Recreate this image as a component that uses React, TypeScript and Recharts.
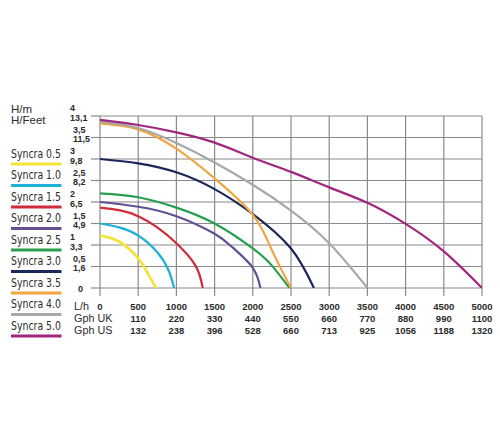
import React from 'react';
import { LineChart, Line, XAxis, YAxis, CartesianGrid, ReferenceLine } from 'recharts';

// Axis ticks and labels
const flowTicks = [0, 500, 1000, 1500, 2000, 2500, 3000, 3500, 4000, 4500, 5000];
const gphUK = ['', '110', '220', '330', '440', '550', '660', '770', '880', '990', '1100'];
const gphUS = ['', '132', '238', '396', '528', '660', '713', '925', '1056', '1188', '1320'];
const headTicks = [0, 0.5, 1, 1.5, 2, 2.5, 3, 3.5, 4];
const headMetres = ['0', '0,5', '1', '1,5', '2', '2,5', '3', '3,5', '4'];
const headFeet = ['', '1,6', '3,3', '4,9', '6,5', '8,2', '9,8', '11,5', '13,1'];

// Models
const models = ['Syncra 0.5', 'Syncra 1.0', 'Syncra 1.5', 'Syncra 2.0', 'Syncra 2.5', 'Syncra 3.0', 'Syncra 3.5', 'Syncra 4.0', 'Syncra 5.0'];

// Pump curves: flow (L/h) and head (m)
const s05Flow = [0, 250, 500, 630, 734];
const s05Head = [1.22, 1.08, 0.69, 0.33, 0];
const s10Flow = [0, 250, 500, 750, 900, 970];
const s10Head = [1.5, 1.41, 1.22, 0.83, 0.4, 0];
const s15Flow = [0, 250, 500, 750, 1000, 1250, 1345];
const s15Head = [1.87, 1.81, 1.67, 1.41, 1.04, 0.52, 0];
const s20Flow = [0, 500, 1000, 1500, 1750, 2000, 2100];
const s20Head = [2.0, 1.89, 1.67, 1.26, 0.92, 0.47, 0];
const s25Flow = [0, 500, 1000, 1500, 2000, 2250, 2480];
const s25Head = [2.2, 2.11, 1.87, 1.5, 0.92, 0.52, 0];
const s30Flow = [0, 500, 1000, 1500, 2000, 2500, 2800];
const s30Head = [3.0, 2.9, 2.69, 2.3, 1.72, 0.92, 0];
const s35Flow = [0, 500, 1000, 1500, 2000, 2250, 2500];
const s35Head = [3.83, 3.69, 3.24, 2.55, 1.7, 0.88, 0];
const s40Flow = [0, 500, 1000, 1500, 2000, 2500, 3000, 3500];
const s40Head = [3.87, 3.72, 3.37, 2.92, 2.4, 1.8, 1.04, 0];
const s50Flow = [0, 500, 1000, 1500, 2000, 2500, 3000, 3500, 4000, 4500, 5000];
const s50Head = [3.91, 3.79, 3.62, 3.38, 3.03, 2.7, 2.34, 1.98, 1.49, 0.85, 0];

const flows = [s05Flow, s10Flow, s15Flow, s20Flow, s25Flow, s30Flow, s35Flow, s40Flow, s50Flow];
const heads = [s05Head, s10Head, s15Head, s20Head, s25Head, s30Head, s35Head, s40Head, s50Head];

const colors = ['#f2e43a', '#1fb0d6', '#cf2b3b', '#644e94', '#26a04e', '#1c2759', '#f0a540', '#a8a8a8', '#a0267f'];

const series = models.map((name, i) => ({
  name,
  color: colors[i],
  data: flows[i].map((q, j) => ({ q, h: heads[i][j] })),
}));

const TEXT = '#2b2b2b';
const GRID = '#8a8a8a';
const FONT = '"Liberation Sans", Arial, sans-serif';
const PLOT_LEFT = 100;

const YTick = (props: any) => {
  const { y, payload } = props;
  const i = headTicks.indexOf(payload.value);
  if (i < 0) return null;
  const m = headMetres[i];
  const ft = headFeet[i];
  const common = { fontFamily: FONT, fontSize: 9, fontWeight: 700, fill: TEXT };
  const tick = <line x1={PLOT_LEFT - 9} x2={PLOT_LEFT} y1={y} y2={y} stroke={GRID} strokeWidth={1.2} />;
  if (!ft) {
    return (
      <g>
        {tick}
        <text x={78} y={y + 3.5} {...common}>{m}</text>
      </g>
    );
  }
  const x = Number.isInteger(payload.value) ? 70 : 73;
  return (
    <g>
      {tick}
      <text x={x} y={y - 5} {...common}>{m}</text>
      <text x={x} y={y + 4.5} {...common}>{ft}</text>
    </g>
  );
};

const XTick = (props: any) => {
  const { x, y, payload } = props;
  const i = flowTicks.indexOf(payload.value);
  if (i < 0) return null;
  const common = { fontFamily: FONT, fontSize: 9.5, fontWeight: 700, fill: TEXT, textAnchor: 'middle' as const };
  return (
    <g>
      <text x={x} y={y + 12} {...common}>{flowTicks[i]}</text>
      {gphUK[i] ? <text x={x} y={y + 24} {...common}>{gphUK[i]}</text> : null}
      {gphUS[i] ? <text x={x} y={y + 36} {...common}>{gphUS[i]}</text> : null}
    </g>
  );
};

export default function App() {
  return (
    <div style={{ position: 'absolute', left: 0, top: 0, width: 500, height: 439, background: '#fff' }}>
      <LineChart width={500} height={439} margin={{ top: 116, right: 18, bottom: 101, left: 70 }}>
        <CartesianGrid stroke={GRID} strokeWidth={1.2} horizontal={false} vertical={true} />
        {headTicks.map((v) => (
          <ReferenceLine key={'h' + v} y={v} stroke={GRID} strokeWidth={1.2} ifOverflow="visible" />
        ))}
        <XAxis
          dataKey="q"
          type="number"
          domain={[0, 5000]}
          ticks={flowTicks}
          interval={0}
          tickSize={8}
          tickMargin={2}
          axisLine={false}
          tickLine={{ stroke: GRID, strokeWidth: 1.2 }}
          height={50}
          tick={<XTick />}
          allowDataOverflow
        />
        <YAxis
          type="number"
          domain={[0, 4]}
          ticks={headTicks}
          interval={0}
          tickSize={9}
          axisLine={false}
          tickLine={false}
          width={30}
          tick={<YTick />}
          allowDataOverflow
        />
        {series.map((s) => (
          <Line
            key={s.name}
            data={s.data}
            dataKey="h"
            type="natural"
            stroke={s.color}
            strokeWidth={s.name === 'Syncra 0.5' ? 2.8 : 2.2}
            dot={false}
            activeDot={false}
            isAnimationActive={false}
          />
        ))}
      </LineChart>
      <svg width={500} height={439} style={{ position: 'absolute', left: 0, top: 0, pointerEvents: 'none' }}>
        <g fontFamily={FONT} fill={TEXT} fontSize={11.5}>
          <text x={11} y={113}>H/m</text>
          <text x={11} y={124}>H/Feet</text>
        </g>
        <g fontFamily={FONT} fill={TEXT} fontSize={10.8}>
          <text x={74} y={310}>L/h</text>
          <text x={74} y={322}>Gph UK</text>
          <text x={74} y={334}>Gph US</text>
        </g>
        {series.map((s, i) => {
          const barY = 164 + i * 21.5;
          return (
            <g key={s.name}>
              <text
                x={11}
                y={barY - 6.5}
                fontFamily={'"Liberation Sans Narrow", "DejaVu Sans Condensed", Roboto, sans-serif'}
                fontSize={11.5}
                fill={TEXT}
                textLength={50}
                lengthAdjust="spacingAndGlyphs"
              >
                {s.name}
              </text>
              <rect x={11} y={barY - 1.5} width={50.5} height={3} fill={s.color} />
            </g>
          );
        })}
      </svg>
    </div>
  );
}
